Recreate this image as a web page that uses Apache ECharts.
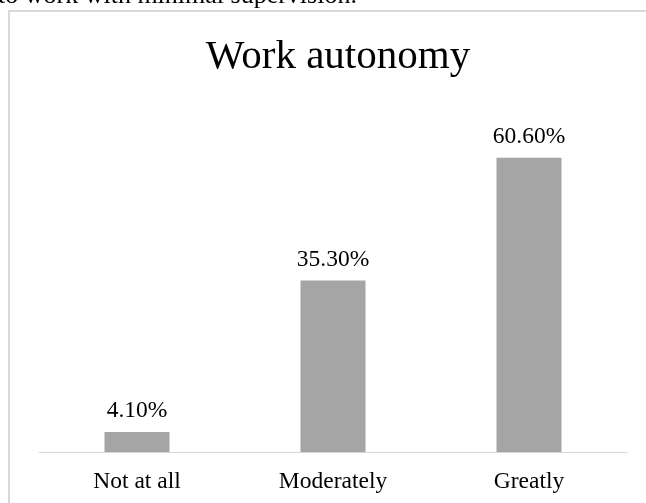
<!DOCTYPE html>
<html>
<head>
<meta charset="utf-8">
<script src="https://cdn.jsdelivr.net/npm/echarts@6/dist/echarts.min.js"></script>
<style>
html,body{margin:0;padding:0;background:#fff;}
#c{width:646px;height:503px;}
</style>
</head>
<body>
<div id="c"></div>
<script>
var categories = ['Not at all', 'Moderately', 'Greatly'];
var values = [4.1, 35.3, 60.6];
var valueLabels = ['4.10%', '35.30%', '60.60%'];
var titleText = 'Work autonomy';
var captionText = 'to work with minimal supervision.';

var chart = echarts.init(document.getElementById('c'));
var serif = '"Liberation Serif", "Times New Roman", serif';
chart.setOption({
  animation: false,
  backgroundColor: '#fff',
  title: {
    text: titleText,
    left: 333,
    textAlign: 'center',
    top: 32,
    textStyle: {fontFamily: serif, fontSize: 41, fontWeight: 'normal', color: '#000'}
  },
  graphic: [
    {type: 'rect', shape: {x: 9, y: 11, width: 700, height: 600},
     style: {fill: 'none', stroke: '#d9d9d9', lineWidth: 2}, silent: true, z: -1},
    {type: 'text', left: -2, top: -17,
     style: {text: captionText, font: '26px ' + serif, fill: '#000'}}
  ],
  grid: {left: 39, right: 19, top: 112, bottom: 51},
  xAxis: {
    type: 'category',
    data: categories,
    axisLine: {lineStyle: {color: '#d9d9d9', width: 1}},
    axisTick: {show: false},
    axisLabel: {fontFamily: serif, fontSize: 23.5, color: '#000', margin: 18}
  },
  yAxis: {type: 'value', min: 0, max: 70, show: false, splitLine: {show: false}},
  series: [{
    type: 'bar',
    data: values,
    barWidth: 65,
    itemStyle: {color: '#a5a5a5'},
    label: {
      show: true, position: 'top', distance: 9,
      fontFamily: serif, fontSize: 23.5, color: '#000',
      formatter: function (p) { return valueLabels[p.dataIndex]; }
    }
  }]
});
</script>
</body>
</html>
